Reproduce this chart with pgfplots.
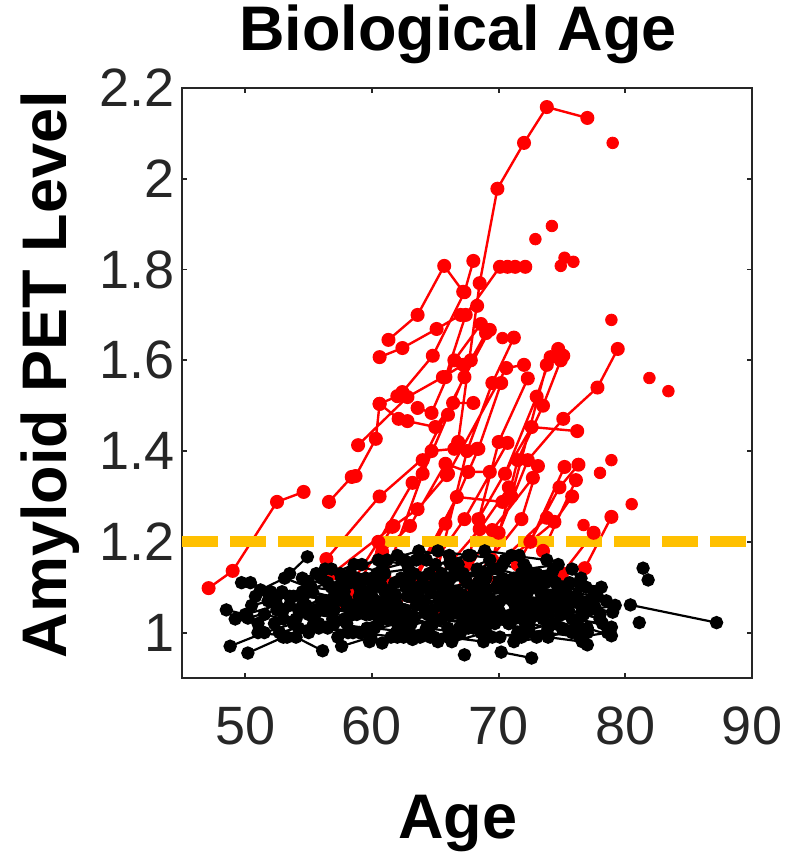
\documentclass[border=0pt]{standalone}
\usepackage{fontspec}
\setmainfont{Liberation Sans}
\usepackage{pgfplots}
\pgfplotsset{compat=1.18}
\definecolor{axgray}{RGB}{38,38,38}
\definecolor{thrgold}{RGB}{255,192,0}

\begin{document}
\begin{tikzpicture}
\begin{axis}[
  name=ax, at={(0,0)}, anchor=south west,
  width=285pt, height=295pt, scale only axis,
  xmin=45, xmax=90, ymin=0.9, ymax=2.2,
  xtick={50,60,70,80,90}, ytick={1,1.2,1.4,1.6,1.8,2,2.2},
  tick align=inside, major tick length=2.5pt,
  axis line style={axgray, line width=0.9pt},
  every tick/.style={axgray, line width=0.9pt},
  ticklabel style={font=\fontsize{27}{30}\selectfont, text=axgray},
  /pgf/number format/assume math mode=true,
  xticklabel style={yshift=-11pt},
  title={Biological Age},
  title style={font=\fontsize{31.5}{36}\selectfont\bfseries,
    at={(axis description cs:0.484,1.044)}, anchor=base},
  xlabel={Age},
  xlabel style={font=\fontsize{31.5}{36}\selectfont\bfseries,
    at={(axis description cs:0.484,-0.2712)}, anchor=base},
  ylabel={Amyloid PET Level},
  ylabel style={font=\fontsize{31.5}{36}\selectfont\bfseries,
    at={(axis description cs:-0.2018,0.514)}, anchor=base},
  unbounded coords=jump,
]
% amyloid positive trajectories
\addplot[red, line width=1.2pt, mark=*, mark size=2.9pt, mark options={solid}] coordinates {
(47.1,1.098)(49.0,1.136)(52.5,1.288)(54.6,1.310)(0,nan)
(56.6,1.288)(58.4,1.343)(58.7,1.345)(60.3,1.427)(60.6,1.504)(62.0,1.521)(0,nan)
(58.9,1.413)(62.8,1.519)(65.6,1.563)(67.2,1.590)(0,nan)
(60.6,1.607)(62.4,1.627)(65.1,1.669)(67.0,1.700)(68.3,1.720)(0,nan)
(61.3,1.645)(63.6,1.700)(65.7,1.808)(67.2,1.751)(0,nan)
(62.4,1.530)(64.8,1.610)(67.3,1.750)(68.0,1.819)(0,nan)
(56.4,1.162)(60.6,1.300)(64.7,1.400)(66.5,1.405)(68.3,1.405)(0,nan)
(56.9,1.131)(61.7,1.235)(63.6,1.272)(65.9,1.347)(0,nan)
(60.8,1.178)(63.0,1.235)(65.8,1.372)(67.6,1.354)(69.3,1.354)(0,nan)
(60.6,1.504)(62.1,1.471)(62.8,1.466)(65.0,1.453)(66.4,1.506)(68.0,1.506)(0,nan)
(63.6,1.495)(64.7,1.484)(66.5,1.600)(68.6,1.680)(0,nan)
(66.8,1.420)(68.5,1.770)(69.9,1.978)(72.0,2.079)(73.8,2.158)(77.0,2.134)(0,nan)
(65.8,1.563)(67.4,1.700)(70.1,1.806)(70.7,1.806)(71.3,1.806)(72.1,1.806)(0,nan)
(64.0,1.380)(67.3,1.563)(69.3,1.667)(0,nan)
(66.0,1.350)(70.6,1.583)(72.0,1.590)(0,nan)
(70.5,1.350)(73.0,1.520)(74.1,1.607)(74.7,1.625)(0,nan)
(71.0,1.300)(73.8,1.590)(75.1,1.610)(0,nan)
(68.4,1.250)(72.6,1.453)(76.2,1.444)(0,nan)
(70.0,1.220)(72.3,1.380)(75.1,1.471)(77.8,1.540)(79.4,1.625)(0,nan)
(72.5,1.200)(75.2,1.365)(0,nan)
(73.5,1.180)(76.1,1.336)(0,nan)
(76.8,1.142)(78.9,1.255)(0,nan)
(62.0,1.050)(66.7,1.299)(70.3,1.288)(0,nan)
(63.0,1.080)(67.3,1.250)(70.7,1.418)(0,nan)
(64.5,1.100)(68.5,1.228)(70.8,1.320)(0,nan)
(65.5,1.040)(69.5,1.226)(72.7,1.341)(0,nan)
(67.0,1.080)(71.8,1.250)(73.1,1.367)(0,nan)
(68.0,1.100)(73.8,1.253)(0,nan)
(69.0,1.120)(74.4,1.244)(75.8,1.300)(0,nan)
(63.5,1.120)(65.8,1.240)(68.4,1.405)(70.2,1.550)(0,nan)
(58.5,1.090)(61.6,1.233)(0,nan)
(65.0,1.120)(67.5,1.400)(69.5,1.550)(71.2,1.650)(0,nan)
(67.5,1.150)(70.0,1.420)(72.3,1.560)(0,nan)
(69.5,1.160)(71.5,1.380)(73.5,1.500)(74.9,1.600)(0,nan)
(61.0,1.120)(64.0,1.350)(66.0,1.480)(67.8,1.600)(69.0,1.660)(0,nan)
(57.5,1.070)(60.5,1.200)(63.2,1.330)(0,nan)
(71.5,1.150)(74.8,1.320)(76.3,1.370)(0,nan)
(75.0,1.130)(77.5,1.220)(0,nan)
};
\addplot[red, only marks, mark=*, mark size=2.9pt] coordinates {
(72.9,1.867)(74.2,1.896)(79.0,2.079)(74.9,1.808)(75.2,1.826)(75.9,1.817)
(78.9,1.689)(81.9,1.561)(83.4,1.532)(80.5,1.283)(78.0,1.352)(78.9,1.380)
(76.7,1.237)(70.3,1.649)
};
% amyloid negative trajectories
\addplot[black, line width=1.1pt, mark=*, mark size=2.8pt, mark options={solid}] coordinates {
(48.5,1.05)(50.0,1.04)(52.5,1.06)(0,nan)
(48.8,0.97)(51.5,1.00)(53.8,1.02)(0,nan)
(49.2,1.03)(51.0,1.02)(0,nan)
(49.7,1.11)(50.4,1.11)(52.0,1.09)(0,nan)
(50.2,0.955)(53.0,0.99)(0,nan)
(50.2,1.032)(52.5,1.05)(54.5,1.06)(0,nan)
(50.5,1.06)(53.5,1.08)(0,nan)
(51.0,1.00)(54.0,0.99)(56.1,0.96)(0,nan)
(51.2,1.094)(53.1,1.12)(55.0,1.10)(0,nan)
(51.5,1.04)(53.0,1.03)(55.5,1.05)(0,nan)
(52.0,1.07)(54.5,1.09)(57.0,1.08)(0,nan)
(52.3,1.02)(55.0,1.04)(0,nan)
(53.5,1.13)(54.9,1.167)(0,nan)
(53.0,1.05)(56.0,1.07)(58.0,1.06)(0,nan)
(53.3,0.99)(55.8,1.01)(58.5,1.00)(0,nan)
(53.8,1.08)(56.5,1.11)(59.0,1.10)(0,nan)
(54.0,1.03)(57.0,1.05)(59.5,1.04)(0,nan)
(54.5,1.12)(56.8,1.14)(58.3,1.13)(0,nan)
(54.8,1.06)(57.5,1.09)(0,nan)
(55.0,1.00)(58.0,1.02)(60.8,0.977)(0,nan)
(55.3,1.09)(58.0,1.07)(60.0,1.08)(0,nan)
(55.5,1.04)(57.8,1.03)(60.5,1.05)(0,nan)
(56.0,1.12)(58.6,1.15)(61.0,1.13)(0,nan)
(56.2,1.07)(59.0,1.08)(61.5,1.07)(0,nan)
(56.5,1.01)(59.2,1.00)(62.0,1.02)(0,nan)
(56.8,1.10)(59.5,1.12)(0,nan)
(57.0,1.05)(60.0,1.06)(62.5,1.04)(0,nan)
(57.3,0.99)(60.2,1.01)(63.0,1.00)(0,nan)
(57.5,1.13)(60.5,1.16)(62.8,1.15)(0,nan)
(57.8,1.08)(60.8,1.10)(63.3,1.09)(0,nan)
(58.0,1.03)(61.0,1.04)(63.5,1.06)(0,nan)
(58.3,1.11)(61.3,1.09)(64.0,1.10)(0,nan)
(58.6,1.06)(61.5,1.07)(64.2,1.05)(0,nan)
(59.0,1.00)(62.0,0.99)(64.5,1.01)(0,nan)
(59.2,1.15)(62.0,1.17)(64.3,1.16)(0,nan)
(59.5,1.09)(62.3,1.12)(65.0,1.11)(0,nan)
(59.8,1.04)(62.6,1.05)(65.3,1.07)(0,nan)
(60.0,1.12)(62.8,1.10)(65.5,1.13)(0,nan)
(60.3,1.07)(63.0,1.08)(65.8,1.06)(0,nan)
(60.5,1.02)(63.3,1.03)(66.0,1.01)(0,nan)
(60.8,1.14)(63.5,1.16)(66.2,1.15)(0,nan)
(61.0,1.09)(63.8,1.07)(66.5,1.09)(0,nan)
(61.3,1.05)(64.0,1.06)(66.8,1.08)(0,nan)
(61.5,0.99)(64.3,1.01)(67.0,1.00)(0,nan)
(61.8,1.11)(64.5,1.13)(67.3,1.12)(0,nan)
(62.0,1.06)(64.8,1.05)(67.5,1.07)(0,nan)
(62.3,1.01)(65.0,1.03)(67.8,1.02)(0,nan)
(62.5,1.16)(65.2,1.18)(67.6,1.17)(0,nan)
(62.8,1.08)(65.5,1.10)(68.2,1.09)(0,nan)
(63.0,1.03)(65.8,1.04)(68.5,1.06)(0,nan)
(63.3,1.13)(66.0,1.11)(68.8,1.13)(0,nan)
(63.5,1.07)(66.3,1.09)(69.0,1.08)(0,nan)
(63.8,0.99)(66.5,1.00)(69.2,1.02)(0,nan)
(64.0,1.12)(66.8,1.15)(69.5,1.14)(0,nan)
(64.3,1.05)(67.0,1.06)(69.8,1.04)(0,nan)
(64.5,1.10)(67.3,1.08)(70.0,1.10)(0,nan)
(64.8,1.02)(67.5,1.04)(70.3,1.03)(0,nan)
(65.0,1.15)(67.8,1.17)(70.5,1.16)(0,nan)
(65.3,1.08)(68.0,1.10)(70.8,1.09)(0,nan)
(65.5,1.03)(68.3,1.02)(71.0,1.04)(0,nan)
(65.8,1.12)(68.5,1.13)(71.3,1.11)(0,nan)
(66.0,1.06)(68.8,1.07)(71.5,1.08)(0,nan)
(66.3,0.98)(69.0,1.00)(71.8,0.99)(0,nan)
(66.5,1.13)(69.3,1.16)(72.0,1.15)(0,nan)
(66.8,1.09)(69.5,1.07)(72.3,1.09)(0,nan)
(67.0,1.04)(69.8,1.05)(72.5,1.03)(0,nan)
(67.3,0.951)(0,nan)
(70.2,0.957)(72.6,0.944)(0,nan)
(67.5,1.11)(70.3,1.12)(73.0,1.10)(0,nan)
(67.8,1.06)(70.5,1.08)(73.3,1.07)(0,nan)
(68.0,1.01)(70.8,1.02)(73.5,1.04)(0,nan)
(68.3,1.14)(71.0,1.17)(73.8,1.16)(0,nan)
(68.5,1.08)(71.3,1.06)(74.0,1.08)(0,nan)
(68.8,1.03)(71.5,1.04)(74.3,1.02)(0,nan)
(69.0,1.12)(71.8,1.13)(74.5,1.11)(0,nan)
(69.3,1.06)(72.0,1.07)(74.8,1.05)(0,nan)
(69.5,0.99)(72.3,1.00)(75.0,1.01)(0,nan)
(69.8,1.10)(72.5,1.12)(75.3,1.10)(0,nan)
(70.0,1.05)(72.8,1.04)(75.5,1.06)(0,nan)
(70.3,1.15)(73.0,1.13)(75.8,1.14)(0,nan)
(70.5,1.08)(73.3,1.09)(76.0,1.07)(0,nan)
(70.8,1.02)(73.5,1.03)(76.3,1.01)(0,nan)
(71.0,1.11)(73.8,1.12)(76.4,1.107)(0,nan)
(71.3,1.06)(74.0,1.05)(76.8,1.06)(0,nan)
(71.5,1.00)(74.3,1.02)(77.0,1.00)(0,nan)
(71.8,1.13)(74.3,1.138)(0,nan)
(72.0,1.08)(74.8,1.07)(77.0,1.068)(0,nan)
(72.3,1.03)(75.0,1.04)(77.6,1.056)(0,nan)
(72.5,1.10)(75.3,1.09)(77.8,1.08)(0,nan)
(72.8,1.05)(75.5,1.06)(78.0,1.04)(0,nan)
(73.0,0.99)(75.8,1.00)(77.0,0.973)(0,nan)
(73.3,1.09)(76.0,1.08)(78.5,1.07)(0,nan)
(73.5,1.04)(76.3,1.03)(78.9,1.012)(0,nan)
(74.0,1.07)(76.5,1.06)(79.0,1.045)(0,nan)
(74.5,1.02)(77.0,1.01)(78.9,0.993)(0,nan)
(75.0,1.10)(77.5,1.09)(0,nan)
(75.5,1.05)(78.0,1.03)(0,nan)
(80.4,1.061)(87.2,1.022)(0,nan)
(81.4,1.142)(0,nan)
(81.8,1.116)(0,nan)
(81.1,1.022)(0,nan)
(52.5,1.08)(55.2,1.10)(57.8,1.09)(0,nan)
(53.5,1.06)(56.3,1.05)(59.0,1.07)(0,nan)
(55.8,1.02)(58.8,1.04)(61.2,1.03)(0,nan)
(57.2,1.10)(60.0,1.11)(62.7,1.10)(0,nan)
(58.5,1.04)(61.8,1.05)(64.6,1.04)(0,nan)
(60.2,1.10)(63.0,1.12)(65.7,1.11)(0,nan)
(61.6,1.03)(64.4,1.04)(67.2,1.03)(0,nan)
(62.9,1.10)(65.6,1.12)(68.4,1.11)(0,nan)
(64.1,1.07)(66.9,1.07)(69.6,1.06)(0,nan)
(65.6,1.10)(68.4,1.11)(71.2,1.12)(0,nan)
(66.9,1.01)(69.7,1.02)(72.4,1.01)(0,nan)
(68.1,1.08)(70.9,1.09)(73.7,1.11)(0,nan)
(69.4,1.03)(72.1,1.02)(74.9,1.04)(0,nan)
(70.7,1.10)(73.4,1.09)(76.2,1.08)(0,nan)
(59.8,0.98)(62.5,0.99)(65.2,0.98)(0,nan)
(63.2,0.985)(66.0,0.99)(68.8,0.98)(0,nan)
(71.2,0.98)(73.9,0.99)(76.6,0.98)(0,nan)
(54.2,1.01)(57.0,1.02)(59.6,1.01)(0,nan)
(55.0,1.11)(57.6,1.12)(60.3,1.11)(0,nan)
(61.2,1.16)(63.7,1.18)(66.1,1.17)(0,nan)
(66.2,1.16)(68.9,1.18)(71.6,1.17)(0,nan)
(72.2,1.14)(74.7,1.15)(76.5,1.12)(0,nan)
(56.3,1.14)(58.8,1.12)(0,nan)
(74.2,1.12)(76.9,1.10)(0,nan)
(75.8,1.03)(78.2,1.02)(0,nan)
(51.8,1.07)(54.2,1.05)(56.6,1.06)(0,nan)
(52.7,1.00)(55.4,1.02)(57.9,1.03)(0,nan)
(54.6,1.08)(57.2,1.07)(59.8,1.09)(0,nan)
(55.6,1.13)(58.1,1.11)(60.7,1.12)(0,nan)
(56.9,1.03)(59.4,1.06)(61.9,1.05)(0,nan)
(58.1,1.00)(60.6,1.03)(63.1,1.02)(0,nan)
(59.3,1.07)(61.9,1.08)(64.6,1.09)(0,nan)
(60.4,1.13)(62.9,1.14)(65.4,1.12)(0,nan)
(61.9,1.00)(64.6,0.99)(67.1,1.01)(0,nan)
(63.6,1.10)(66.2,1.12)(68.9,1.10)(0,nan)
(64.9,0.99)(67.6,1.01)(70.1,0.99)(0,nan)
(65.9,1.08)(68.6,1.05)(71.1,1.07)(0,nan)
(67.2,1.13)(69.9,1.14)(72.6,1.12)(0,nan)
(68.6,1.00)(71.2,1.03)(73.9,1.01)(0,nan)
(70.1,1.07)(72.7,1.06)(75.2,1.08)(0,nan)
(71.6,1.04)(74.1,1.06)(76.7,1.04)(0,nan)
(72.9,1.12)(75.6,1.11)(78.1,1.10)(0,nan)
(73.8,1.00)(76.4,0.99)(78.6,1.00)(0,nan)
(74.6,1.08)(77.2,1.05)(79.2,1.06)(0,nan)
(50.8,1.08)(52.9,1.09)(0,nan)
(57.6,0.97)(59.9,0.99)(0,nan)
(62.6,1.045)(65.4,1.06)(68.1,1.045)(0,nan)
(66.6,1.045)(69.2,1.035)(72.0,1.055)(0,nan)
(60.9,1.065)(63.6,1.085)(66.4,1.065)(0,nan)
(69.1,1.095)(71.9,1.10)(74.6,1.09)(0,nan)
};
% positivity threshold
\addplot[thrgold, line width=5.5pt, dash pattern=on 18pt off 6pt] coordinates {(45,1.2)(90,1.2)};
\end{axis}
\pgfresetboundingbox
\path[use as bounding box] (-91pt,-88pt) rectangle (302.5pt,339pt);
\end{tikzpicture}
\end{document}
